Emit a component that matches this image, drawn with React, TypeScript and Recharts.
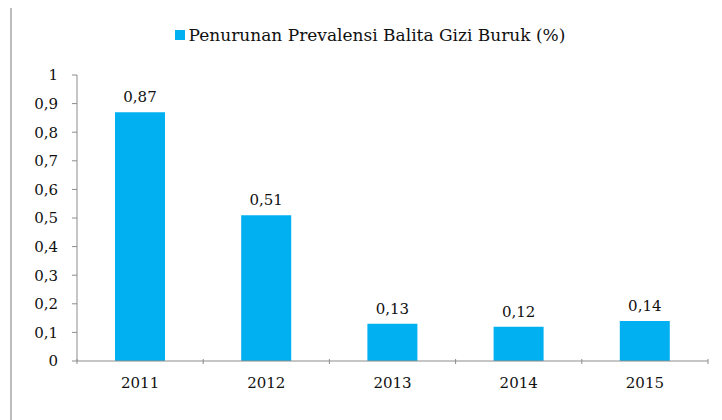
import { BarChart, Bar, XAxis, YAxis, Legend, LabelList } from "recharts"

const years = ["2011", "2012", "2013", "2014", "2015"]
const prevalensi = [0.87, 0.51, 0.13, 0.12, 0.14]
const yTicks = [0, 0.1, 0.2, 0.3, 0.4, 0.5, 0.6, 0.7, 0.8, 0.9, 1]
const seriesName = "Penurunan Prevalensi Balita Gizi Buruk (%)"

const data = years.map((year, i) => ({ year, nilai: prevalensi[i] }))

const FONT = "'DejaVu Serif', serif"
const BLUE = "#00B0F0"
const AXIS = "#8c8c8c"
const INK = "#111"

const W = 710
const H = 412
const M = { top: 47, right: 14, bottom: 19, left: 0 }
const Y_W = 65
const plotW = W - M.left - M.right - Y_W
const band = plotW / years.length

const comma = (v: number) => (v === 0 || v === 1 ? String(v) : String(v).replace(".", ","))

function YearTick(props: any) {
  const { x, y, payload, index } = props
  const top = y - 10
  return (
    <g>
      {index === 0 && <line x1={x - band / 2} x2={x - band / 2} y1={top} y2={top + 5} stroke={AXIS} />}
      <line x1={x + band / 2} x2={x + band / 2} y1={top} y2={top + 5} stroke={AXIS} />
      <text x={x} y={y + 19} textAnchor="middle" fontFamily={FONT} fontSize={15} fill={INK}>
        {payload.value}
      </text>
    </g>
  )
}

function LegendBox() {
  return (
    <div style={{ display: "flex", alignItems: "center", justifyContent: "center", fontFamily: FONT, fontSize: 17, color: INK, marginLeft: 6 }}>
      <span style={{ width: 10, height: 10, background: BLUE, display: "inline-block", marginRight: 4 }} />
      <span>{seriesName}</span>
    </div>
  )
}

export default function App() {
  return (
    <div style={{ width: 712, height: 416, marginLeft: 2, marginTop: -2, borderLeft: "2px solid #bdbdbd", borderTop: "2px solid #bdbdbd", background: "#fff" }}>
      <BarChart width={W} height={H} data={data} margin={M}>
        <Legend verticalAlign="top" content={<LegendBox />} wrapperStyle={{ position: "absolute", top: 17, left: 0, width: W }} />
        <YAxis
          domain={[0, 1]}
          ticks={yTicks}
          width={Y_W}
          tickFormatter={comma}
          stroke={AXIS}
          tickSize={5}
          tickMargin={14}
          tick={{ fontFamily: FONT, fontSize: 15, fill: INK }}
          interval={0}
        />
        <XAxis dataKey="year" stroke={AXIS} tickLine={false} tick={<YearTick />} height={40} interval={0} />
        <Bar dataKey="nilai" name={seriesName} fill={BLUE} barSize={50} isAnimationActive={false}>
          <LabelList dataKey="nilai" position="top" offset={10} formatter={(v: any) => comma(Number(v))} style={{ fontFamily: FONT, fontSize: 15, fill: INK }} />
        </Bar>
      </BarChart>
    </div>
  )
}
